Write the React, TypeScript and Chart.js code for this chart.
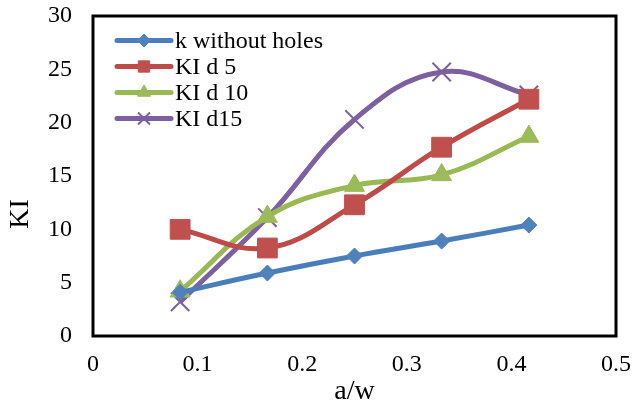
import React, { useEffect, useRef } from "react";
import { Chart, registerables } from "chart.js";
import { drawPoint } from "chart.js/helpers";

Chart.register(...registerables);

const aw = [0.0833, 0.1667, 0.25, 0.3333, 0.4167];
const kWithoutHoles = [4.1, 5.9, 7.5, 8.9, 10.4];
const kiD5 = [10.0, 8.25, 12.3, 17.7, 22.2];
const kiD10 = [4.2, 11.2, 14.1, 15.1, 18.7];
const kiD15 = [3.2, 11.1, 20.3, 24.75, 22.6];
const seriesNames = ["k without holes", "KI d 5", "KI d 10", "KI d15"];
const xTitle = "a/w";
const yTitle = "KI";

const FONT = "'Liberation Serif', 'Times New Roman', serif";

const colors = ["#4A7EBB", "#BE4B48", "#98B954", "#7D60A0"];
const markerFill = ["#4F81BD", "#C0504D", "#9BBB59", "#8064A2"];
const styles: any[] = ["rectRot", "rect", "triangle", "crossRot"];
const radii = [8, 14, 11.5, 13];
const legendRadii = [6.5, 8, 7.5, 8.5];

const toPts = (ys: number[]) => aw.map((x, i) => ({ x, y: ys[i] }));

const frameAndLegend = {
  id: "frameAndLegend",
  afterDatasetsDraw(chart: any) {
    const { ctx, chartArea } = chart;
    ctx.save();
    // frame
    ctx.strokeStyle = "#000";
    ctx.lineWidth = 3;
    ctx.strokeRect(chartArea.left, chartArea.top, chartArea.right - chartArea.left, chartArea.bottom - chartArea.top);
    // legend
    const x0 = 117, x1 = 171, ys = [40.5, 66.5, 92.5, 118.5];
    chart.data.datasets.forEach((ds: any, i: number) => {
      const y = ys[i];
      ctx.strokeStyle = ds.borderColor;
      ctx.lineWidth = 5;
      ctx.lineCap = "round";
      ctx.beginPath();
      ctx.moveTo(x0, y);
      ctx.lineTo(x1, y);
      ctx.stroke();
      ctx.lineCap = "butt";
      ctx.fillStyle = ds.pointBackgroundColor;
      ctx.strokeStyle = ds.pointBorderColor;
      ctx.lineWidth = ds.pointBorderWidth;
      drawPoint(ctx, { pointStyle: ds.pointStyle, radius: legendRadii[i], rotation: 0, borderWidth: ds.pointBorderWidth } as any, (x0 + x1) / 2, y);
      ctx.fillStyle = "#000";
      ctx.font = `24px ${FONT}`;
      ctx.textBaseline = "alphabetic";
      ctx.textAlign = "left";
      ctx.fillText(ds.label, 175, y + 7);
    });
    // axis titles
    ctx.fillStyle = "#000";
    ctx.font = `28px ${FONT}`;
    ctx.textAlign = "center";
    ctx.textBaseline = "alphabetic";
    ctx.fillText(xTitle, (chartArea.left + chartArea.right) / 2, 399);
    ctx.translate(28, 214);
    ctx.rotate(-Math.PI / 2);
    ctx.fillText(yTitle, 0, 0);
    ctx.restore();
  },
};

export default function App() {
  const ref = useRef<HTMLCanvasElement>(null);
  useEffect(() => {
    if (!ref.current) return;
    const data = [kWithoutHoles, kiD5, kiD10, kiD15];
    const chart = new Chart(ref.current, {
      type: "scatter",
      data: {
        datasets: data.map((d, i) => ({
          label: seriesNames[i],
          data: toPts(d),
          showLine: true,
          borderColor: colors[i],
          backgroundColor: colors[i],
          borderWidth: 5,
          tension: 0.4,
          pointStyle: styles[i],
          pointRadius: radii[i],
          pointHoverRadius: radii[i],
          pointBackgroundColor: markerFill[i],
          pointBorderColor: i === 3 ? colors[i] : markerFill[i],
          pointBorderWidth: i === 3 ? 2 : 1,
        })),
      },
      options: {
        animation: false,
        responsive: false,
        layout: { padding: { top: 16, right: 16, left: 0, bottom: 0 } },
        plugins: { legend: { display: false }, tooltip: { enabled: false } },
        scales: {
          x: {
            type: "linear",
            min: 0,
            max: 0.5,
            grid: { display: false, drawTicks: false },
            border: { display: false },
            ticks: {
              stepSize: 0.1,
              padding: 14,
              color: "#000",
              font: { family: FONT, size: 24 },
              callback: (v: any) => String(Math.round(Number(v) * 10) / 10),
            },
            title: { display: false, text: xTitle },
            afterFit: (s: any) => {
              s.height = 69;
              s.paddingLeft = 0;
              s.paddingRight = 0;
            },
          },
          y: {
            min: 0,
            max: 30,
            grid: { display: false, drawTicks: false },
            border: { display: false },
            ticks: { stepSize: 5, padding: 21, color: "#000", font: { family: FONT, size: 24 } },
            title: { display: false, text: yTitle },
            afterFit: (s: any) => {
              s.width = 93;
              s.paddingTop = 0;
              s.paddingBottom = 0;
            },
          },
        },
      },
      plugins: [frameAndLegend],
    });
    return () => chart.destroy();
  }, []);
  return (
    <div style={{ position: "fixed", left: 0, top: 0, width: 632, height: 405, background: "#fff" }}>
      <canvas ref={ref} width={632} height={405} />
    </div>
  );
}
